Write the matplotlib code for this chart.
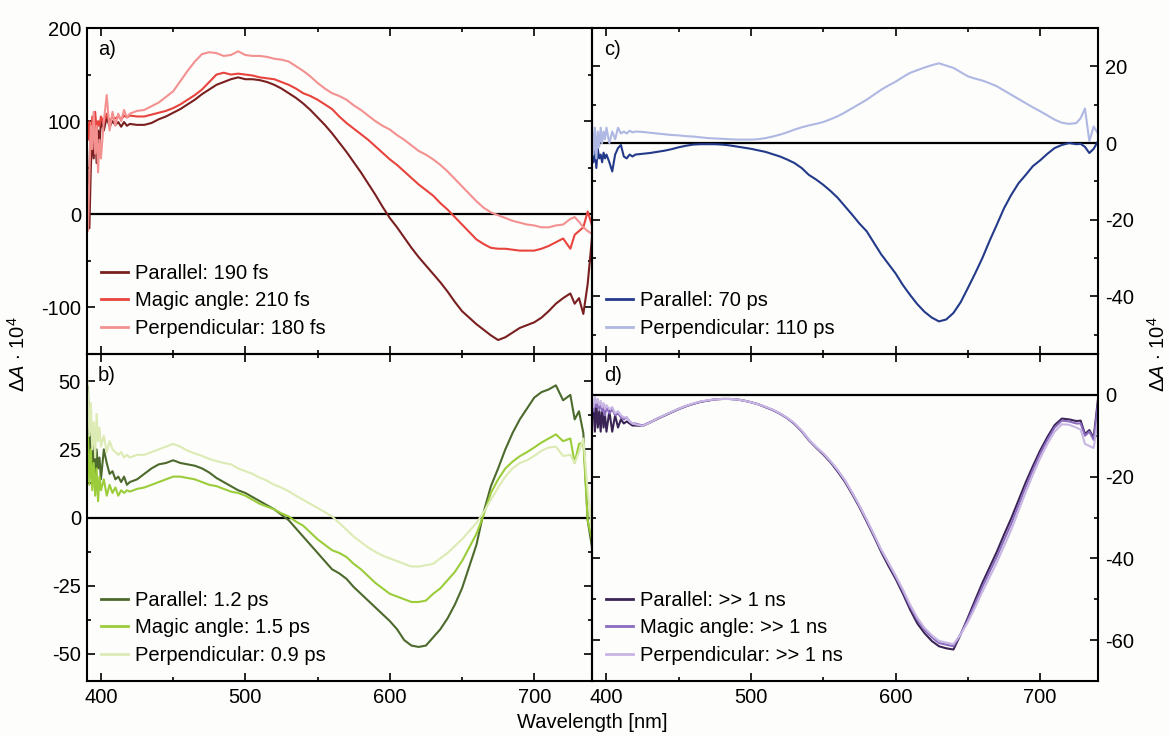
import matplotlib
matplotlib.use("Agg")
import matplotlib.pyplot as plt
from matplotlib.ticker import MultipleLocator
from matplotlib.lines import Line2D

plt.rcParams.update({
    "font.family": ["Liberation Sans", "DejaVu Sans"],
    "mathtext.fontset": "custom",
    "mathtext.rm": "Liberation Sans",
    "mathtext.it": "Liberation Sans:italic",
    "axes.unicode_minus": False,
})

# Probe wavelengths (nm)
wavelength = list(range(390, 401)) + list(range(402, 421, 2)) + list(range(425, 726, 5)) + [728, 731, 734, 737, 740]

# a) femtosecond component
a_parallel = [95, 30, -15, 50, 85, 60, 95, 55, 90, 75, 100,
              90, 104, 94, 100, 96, 99, 94, 99, 95, 97,
              96, 96, 98, 102, 105, 109, 113, 118, 123, 129,
              134, 139, 142, 145, 147, 145, 145, 144, 142, 139,
              135, 130, 125, 119, 112, 104, 96, 87, 77, 67,
              56, 45, 33, 21, 8, -4, -14, -25, -36, -46,
              -55, -64, -73, -83, -94, -104, -111, -118, -124, -130,
              -135, -132, -127, -122, -119, -116, -111, -104, -96, -90,
              -85,
              -96, -90, -107, -75, -25]
a_magic = [110, 80, 100, 70, 105, 85, 110, 90, 100, 95, 105,
           98, 108, 100, 104, 103, 105, 102, 106, 104, 106,
           105, 105, 107, 109, 111, 114, 118, 123, 128, 134,
           142, 150, 152, 150, 151, 150, 149, 147, 146, 145,
           142, 139, 135, 130, 127, 123, 118, 113, 105, 98,
           92, 86, 80, 73, 66, 59, 53, 46, 39, 32,
           26, 20, 12, 5, -3, -11, -19, -27, -32, -36,
           -37, -37, -38, -39, -39, -39, -37, -34, -30, -26,
           -37,
           -22, -18, -14, 3, -12]
a_perpendicular = [60, -18, 40, 95, 70, 110, 65, 95, 45, 80, 60,
                   100, 128, 90, 110, 95, 108, 100, 112, 104, 108,
                   111, 112, 116, 120, 126, 132, 143, 154, 164, 172,
                   174, 173, 170, 171, 175, 171, 170, 170, 169, 167,
                   166, 164, 159, 154, 148, 141, 135, 130, 127, 123,
                   117, 112, 106, 100, 95, 91, 85, 80, 74, 68,
                   64, 59, 53, 46, 38, 30, 22, 14, 7, 2,
                   -1, -4, -7, -9, -11, -12, -14, -14, -12, -11,
                   -5,
                   -3, -8, -14, -18, -21]

# b) picosecond component
b_parallel = [30, 48, 20, 38, 15, 30, 12, 25, 18, 22, 14,
              25, 20, 16, 17, 14, 15, 13, 15, 12, 13,
              14, 16, 18, 19.5, 20, 21, 20, 19.5, 19, 18,
              16.5, 14.5, 13, 11.5, 10, 9, 7.5, 6, 4.5, 3,
              1, -1, -4, -7, -10, -13, -16, -19, -20.5, -22.5,
              -25.5, -28, -30.5, -33, -35.5, -38, -41, -45, -47, -47.5,
              -47, -44, -41, -37, -32, -26, -18, -10, 2, 11.5,
              18, 25, 31, 36, 40, 44, 46, 47, 48.5, 43,
              45,
              36, 39, 31, -1, -11]
b_magic = [20, 30, 12, 25, 10, 20, 8, 18, 6, 15, 10,
           14, 8, 12, 9, 11, 8, 10, 9, 10, 9.5,
           10.5, 11, 12, 13, 14, 15, 15, 14.5, 14, 13,
           12, 11.5, 10.5, 9.5, 9, 8, 6.5, 5, 4, 3,
           1.5, 0.4, -1.5, -3, -5.5, -8, -10, -12, -13, -14.5,
           -17, -19, -21.5, -24, -26, -28, -29, -30, -31, -31,
           -30.5, -28, -26, -23, -20, -16, -11, -6, 1, 9,
           14, 18, 20.5, 22.5, 24, 25.7, 27.5, 29, 30.5, 28,
           29,
           20, 27, 27.5, -1, -8]
b_perpendicular = [58, 45, 30, 42, 25, 35, 22, 38, 28, 33, 26,
                   30, 24, 28, 25, 24, 23, 24, 22, 23, 22,
                   23, 23, 24, 25, 26, 27, 26, 24.5, 23.5, 22.6,
                   21.5, 20.7, 20, 19.5, 18, 17, 16, 14.6, 13.5, 12,
                   11, 9.6, 8, 6.5, 5, 3.5, 2, 0.4, -2, -4.5,
                   -7, -9, -11, -12.6, -14, -15, -16, -17, -18, -18,
                   -17.5, -17, -15, -13, -10.5, -8, -5, -2, 2, 6.5,
                   11, 15, 18, 20, 21, 22.6, 24.5, 25.7, 26, 22.6,
                   23,
                   20, 24, 29, 10, -5]

# c) tens-of-picoseconds component
c_parallel = [-3, -5, -2, -6.5, -1.5, -4, -3, -5, -2.5, -4, -3,
              -5, -7.4, -3, -1.3, -0.5, -3.5, -4, -3, -3.5, -3,
              -2.8, -2.6, -2.3, -2, -1.6, -1.1, -0.7, -0.4, -0.3, -0.3,
              -0.3, -0.4, -0.6, -0.9, -1.2, -1.5, -1.9, -2.3, -2.9, -3.5,
              -4.3, -5.2, -6.5, -8.3, -9.5, -10.9, -12.5, -14.3, -16.5, -18.7,
              -21, -23, -26, -29, -31.5, -34, -37, -39.6, -42, -44,
              -45.5, -46.5, -46, -44.3, -41.5, -37.8, -34, -30, -25.5, -21.3,
              -17, -13.5, -10.5, -8.3, -6, -4.5, -2.8, -1.3, -0.5, 0,
              -0.3,
              -0.2, -1, -2.6, -1.5, 0.5]
c_perpendicular = [5, -3, 4, -4, 3, -1, 4, 0, 3, 1, 4,
                   0, 3, 1, 4, 2.5, 3, 2.5, 3.2, 2.8, 3,
                   2.9, 2.7, 2.5, 2.3, 2.1, 2, 1.8, 1.7, 1.5, 1.3,
                   1.2, 1.1, 1, 0.9, 0.9, 0.9, 1, 1.3, 1.7, 2.2,
                   2.8, 3.5, 4.1, 4.6, 5, 5.5, 6.2, 7, 8, 9.1,
                   10.2, 11.3, 12.6, 13.9, 15, 16, 17.2, 18.3, 19, 19.7,
                   20.3, 20.8, 20.2, 19.6, 18.5, 17.4, 16.8, 16.3, 15.6, 14.8,
                   13.7, 12.6, 11.5, 10.4, 9.3, 8.3, 7.2, 6.1, 5.3, 5,
                   5.2,
                   6.5, 9, 0.5, 4.3, 2.5]

# d) long-lived component
d_parallel = [-6, -3, -9, -2, -8, -4, -9, -3, -8, -5, -9,
              -4, -9, -5, -8, -6, -7, -6.5, -7, -7.5, -7.5,
              -7.6, -6.8, -5.9, -5.1, -4.3, -3.5, -2.8, -2.2, -1.7, -1.4,
              -1.1, -1, -1, -1.1, -1.4, -1.8, -2.3, -3, -3.7, -4.6,
              -5.7, -7.1, -8.9, -11.1, -12.9, -14.6, -16.5, -18.8, -21.3, -24.3,
              -27.5, -31, -34.6, -38.4, -41.8, -45, -48.6, -52.5, -55.9, -58.3,
              -60.2, -61.5, -62, -62.3, -58.6, -54.5, -50.2, -46, -42.2, -38.4,
              -34.2, -30.2, -25.8, -21.4, -17.4, -13.6, -10.3, -7.4, -5.8, -6,
              -6.4,
              -6.3, -9.6, -8.6, -10.5, -1]
d_magic = [-2, -4, -1, -3, -1.5, -3.5, -2, -4, -2.5, -5, -3,
           -4.5, -3.5, -5, -4.5, -5.5, -6, -5.5, -6.5, -7, -7,
           -7.5, -6.7, -5.8, -5, -4.2, -3.4, -2.7, -2.2, -1.7, -1.4,
           -1.1, -1, -1, -1.1, -1.4, -1.8, -2.3, -3, -3.7, -4.6,
           -5.7, -7, -8.8, -11, -12.8, -14.4, -16.3, -18.5, -21, -24,
           -27.2, -30.7, -34.3, -38, -41.2, -44.5, -48, -51.8, -55, -57.5,
           -59.3, -60.7, -61.1, -61.5, -58.5, -55, -51, -47, -43.3, -39.6,
           -35.5, -31.5, -27, -22.5, -18.3, -14.4, -11, -8, -6.3, -6.5,
           -7,
           -7, -10, -9, -11, -2]
d_perpendicular = [-1, -3, -0.5, -2, -1, -2.5, -1.5, -3, -2, -3.5, -2.5,
                   -3.5, -3, -4.5, -4, -5, -5.5, -5.5, -6.5, -7, -7.2,
                   -7.6, -6.8, -5.8, -5, -4.2, -3.4, -2.7, -2.1, -1.6, -1.3,
                   -1.1, -1, -1, -1.1, -1.4, -1.8, -2.3, -2.9, -3.6, -4.5,
                   -5.6, -6.9, -8.7, -10.9, -12.7, -14.3, -16.2, -18.4, -20.9, -23.9,
                   -27.1, -30.5, -34.1, -37.8, -41, -44.2, -47.6, -51.3, -54.5, -57,
                   -58.8, -60.2, -60.6, -61, -58.6, -55.6, -52, -48.2, -44.6, -41,
                   -37, -33, -28.4, -23.8, -19.5, -15.5, -12, -9, -7.2, -7.3,
                   -8,
                   -8.5, -12, -12.5, -13, -6]

x_ticks = [400, 500, 600, 700]

FIG_W, FIG_H = 1169, 736
fig = plt.figure(figsize=(FIG_W / 100, FIG_H / 100), dpi=100, facecolor="#fdfdfb")


def px_rect(x0, y0, x1, y1):
    return [x0 / FIG_W, 1 - y1 / FIG_H, (x1 - x0) / FIG_W, (y1 - y0) / FIG_H]


panels = [
    dict(rect=px_rect(86.5, 28, 592, 354), tag="a)", side="left", ylim=(-150, 200),
         major=100, minor=50, bottom_labels=False,
         series=[(a_parallel, "#7a1f1f", "Parallel: 190 fs"),
                 (a_magic, "#e8433d", "Magic angle: 210 fs"),
                 (a_perpendicular, "#f39190", "Perpendicular: 180 fs")]),
    dict(rect=px_rect(86.5, 354, 592, 681), tag="b)", side="left", ylim=(-60, 60),
         major=25, minor=12.5, bottom_labels=True,
         series=[(b_parallel, "#4d6a2d", "Parallel: 1.2 ps"),
                 (b_magic, "#9bcd3b", "Magic angle: 1.5 ps"),
                 (b_perpendicular, "#dcebb4", "Perpendicular: 0.9 ps")]),
    dict(rect=px_rect(592, 28, 1098, 354), tag="c)", side="right", ylim=(-55, 30),
         major=20, minor=10, bottom_labels=False,
         series=[(c_parallel, "#233a8a", "Parallel: 70 ps"),
                 (c_perpendicular, "#aeb8e2", "Perpendicular: 110 ps")]),
    dict(rect=px_rect(592, 354, 1098, 681), tag="d)", side="right", ylim=(-70, 10),
         major=20, minor=10, bottom_labels=True,
         series=[(d_parallel, "#3a2456", "Parallel: >> 1 ns"),
                 (d_magic, "#8c6cbf", "Magic angle: >> 1 ns"),
                 (d_perpendicular, "#c8b6e3", "Perpendicular: >> 1 ns")]),
]

FS = 14.5
for p in panels:
    ax = fig.add_axes(p["rect"])
    ax.set_facecolor("none")
    ax.axhline(0, color="black", lw=1.6, zorder=1)
    handles = []
    for values, color, label in p["series"]:
        assert len(values) == len(wavelength)
        ax.plot(wavelength, values, color=color, lw=1.5, zorder=2)
        handles.append(Line2D([], [], color=color, lw=2.0))
    ax.set_xlim(390, 740)
    ax.set_ylim(*p["ylim"])
    ax.set_xticks(x_ticks)
    ax.xaxis.set_minor_locator(MultipleLocator(50))
    ax.yaxis.set_major_locator(MultipleLocator(p["major"]))
    ax.yaxis.set_minor_locator(MultipleLocator(p["minor"]))
    for s in ax.spines.values():
        s.set_linewidth(1.5)
    ax.tick_params(which="both", direction="in", top=True, bottom=True,
                   left=True, right=True, width=1.2, labelsize=FS)
    ax.tick_params(which="major", length=5.5)
    ax.tick_params(which="minor", length=3)
    ax.tick_params(axis="x", pad=5, labelbottom=p["bottom_labels"])
    if p["side"] == "left":
        ax.tick_params(axis="y", labelleft=True, labelright=False, pad=4)
    else:
        ax.tick_params(axis="y", labelleft=False, labelright=True, pad=5)
    ax.text(0.023, 0.962, p["tag"], transform=ax.transAxes, ha="left", va="top",
            fontsize=FS)
    ax.legend(handles, [s[2] for s in p["series"]], loc="lower left",
              bbox_to_anchor=(0.028, 0.05), frameon=False, fontsize=FS,
              handlelength=1.35, handletextpad=0.35, labelspacing=0.42,
              borderpad=0, borderaxespad=0)

ylabel = r"$\Delta\mathit{A}$ $\cdot$ 10$^4$"
fig.text(18 / FIG_W, 1 - 354 / FIG_H, ylabel, rotation=90, ha="center", va="center",
         fontsize=FS)
fig.text(1158 / FIG_W, 1 - 354 / FIG_H, ylabel, rotation=90, ha="center", va="center",
         fontsize=FS)
fig.text(592 / FIG_W, 1 - 722 / FIG_H, "Wavelength [nm]", ha="center", va="center",
         fontsize=FS)

fig.savefig("out.png", dpi=100, facecolor=fig.get_facecolor())
